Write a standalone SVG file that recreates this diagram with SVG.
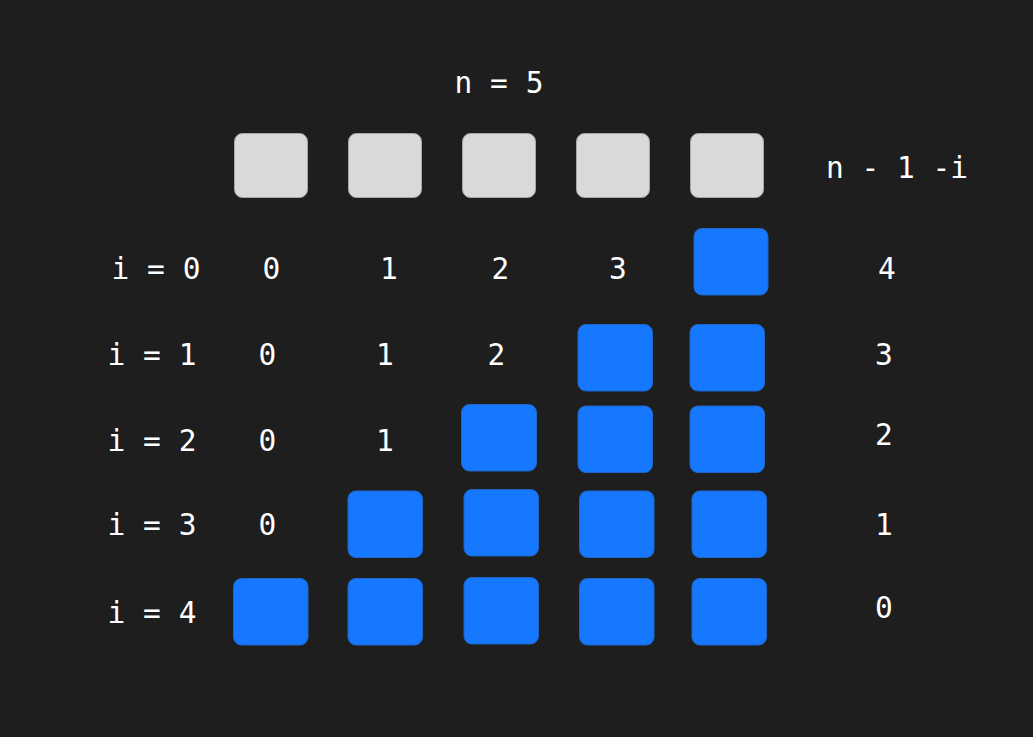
<svg xmlns="http://www.w3.org/2000/svg" width="1033" height="737" viewBox="0 0 1033 737">
  <style>
    .t { font-family: "DejaVu Sans Mono", "Liberation Mono", monospace; font-size: 29.5px; fill: #ffffff; text-anchor: middle; }
    .g { fill: #d9d9d9; stroke: #a6a6a6; stroke-width: 1; }
    .b { fill: #1677ff; stroke: #1f66c9; stroke-width: 1; }
  </style>
  <rect x="0" y="0" width="1033" height="737" fill="#1e1e1e"/>

  <g id="title"><text class="t" x="499" y="93">n = 5</text></g>
  <g id="formula"><text class="t" x="897" y="177.5">n - 1 -i</text></g>

  <g id="header">
    <rect class="g" x="234.5" y="133.5" width="73" height="64" rx="8"/>
    <rect class="g" x="348.5" y="133.5" width="73" height="64" rx="8"/>
    <rect class="g" x="462.5" y="133.5" width="73" height="64" rx="8"/>
    <rect class="g" x="576.5" y="133.5" width="73" height="64" rx="8"/>
    <rect class="g" x="690.5" y="133.5" width="73" height="64" rx="8"/>
  </g>

  <g id="row0">
    <text class="t" x="156" y="279">i = 0</text>
    <text class="t" x="271.5" y="279">0</text>
    <text class="t" x="389" y="279">1</text>
    <text class="t" x="500.5" y="279">2</text>
    <text class="t" x="618" y="279">3</text>
    <rect class="b" x="694" y="228.5" width="74" height="66.5" rx="8"/>
    <text class="t" x="887" y="279">4</text>
  </g>

  <g id="row1">
    <text class="t" x="152" y="365">i = 1</text>
    <text class="t" x="267.5" y="365">0</text>
    <text class="t" x="385" y="365">1</text>
    <text class="t" x="496.5" y="365">2</text>
    <rect class="b" x="578" y="324.5" width="74.5" height="66.5" rx="8"/>
    <rect class="b" x="690" y="324.5" width="74.5" height="66.5" rx="8"/>
    <text class="t" x="884" y="365">3</text>
  </g>

  <g id="row2">
    <text class="t" x="152" y="451">i = 2</text>
    <text class="t" x="267.5" y="451">0</text>
    <text class="t" x="385" y="451">1</text>
    <rect class="b" x="461.5" y="404.5" width="75" height="66.5" rx="8"/>
    <rect class="b" x="578" y="406" width="74.5" height="66.5" rx="8"/>
    <rect class="b" x="690" y="406" width="74.5" height="66.5" rx="8"/>
    <text class="t" x="884" y="445">2</text>
  </g>

  <g id="row3">
    <text class="t" x="152" y="535">i = 3</text>
    <text class="t" x="267.5" y="535">0</text>
    <rect class="b" x="348" y="491" width="74.5" height="66.5" rx="8"/>
    <rect class="b" x="464" y="489.5" width="74.5" height="66.5" rx="8"/>
    <rect class="b" x="579.5" y="491" width="74.5" height="66.5" rx="8"/>
    <rect class="b" x="692" y="491" width="74.5" height="66.5" rx="8"/>
    <text class="t" x="884" y="535">1</text>
  </g>

  <g id="row4">
    <text class="t" x="152" y="623">i = 4</text>
    <rect class="b" x="233.5" y="578.5" width="74.5" height="66.5" rx="8"/>
    <rect class="b" x="348" y="578.5" width="74.5" height="66.5" rx="8"/>
    <rect class="b" x="464" y="577.5" width="74.5" height="66.5" rx="8"/>
    <rect class="b" x="579.5" y="578.5" width="74.5" height="66.5" rx="8"/>
    <rect class="b" x="692" y="578.5" width="74.5" height="66.5" rx="8"/>
    <text class="t" x="884" y="617.5">0</text>
  </g>
</svg>
